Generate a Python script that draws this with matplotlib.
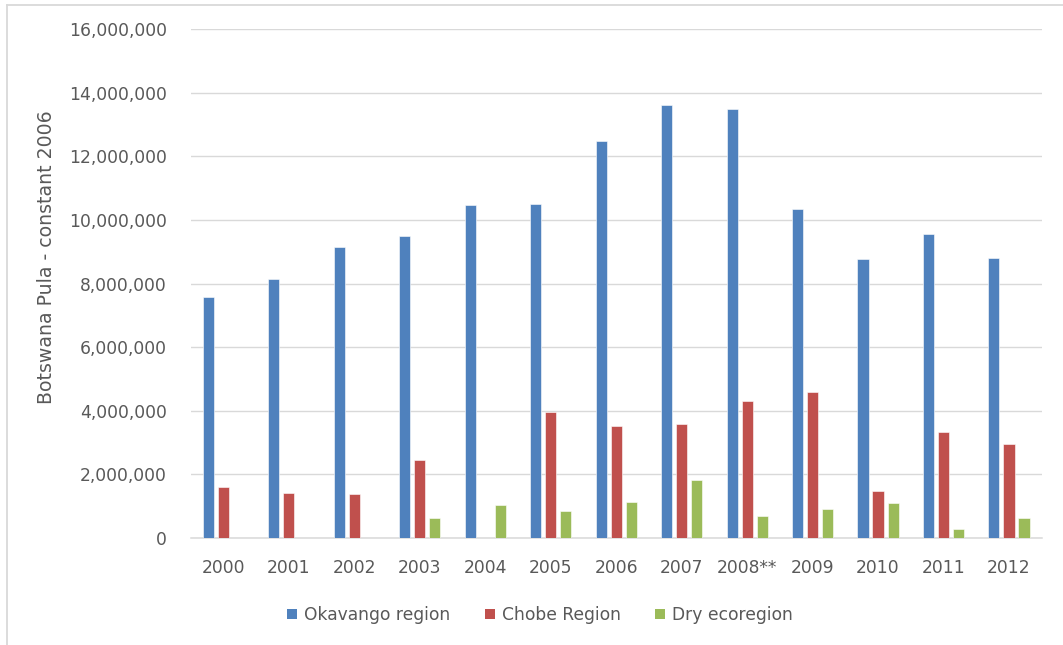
import matplotlib.pyplot as plt
from matplotlib.lines import Line2D
from matplotlib.patches import Patch
from matplotlib.ticker import FuncFormatter
import numpy as np

years = ["2000", "2001", "2002", "2003", "2004", "2005", "2006",
         "2007", "2008**", "2009", "2010", "2011", "2012"]
okavango = [7590000, 8140000, 9160000, 9510000, 10460000, 10510000, 12490000,
            13630000, 13500000, 10360000, 8760000, 9560000, 8810000]
chobe = [1590000, 1420000, 1370000, 2440000, 0, 3970000, 3520000,
         3580000, 4310000, 4590000, 1480000, 3340000, 2950000]
dry = [0, 0, 0, 630000, 1030000, 860000, 1140000,
       1810000, 680000, 910000, 1090000, 290000, 630000]
series_names = ["Okavango region", "Chobe Region", "Dry ecoregion"]
colors = ["#4f81bd", "#c0504d", "#9bbb59"]

plt.rcParams["font.family"] = ["DejaVu Sans"]
TXT = "#595959"
GRID = "#d9d9d9"
FS = 12.3

fig = plt.figure(figsize=(10.63, 6.45), dpi=100)
ax = fig.add_axes([190.7 / 1063, 1 - 538 / 645, 851 / 1063, 508.7 / 645])

x = np.arange(len(years))
w = 0.17
off = 0.23
for i, vals in enumerate([okavango, chobe, dry]):
    ax.bar(x + (i - 1) * off, vals, w, color=colors[i],
           edgecolor="white", linewidth=0.4, zorder=3)

ax.set_xlim(-0.5, len(years) - 0.5)
ax.set_ylim(0, 16000000)
ax.set_yticks(np.arange(0, 16000001, 2000000))
ax.yaxis.set_major_formatter(FuncFormatter(lambda v, p: f"{int(v):,}"))
ax.set_xticks(x)
ax.set_xticklabels(years)
ax.tick_params(axis="both", length=0, colors=TXT, labelsize=FS)
ax.tick_params(axis="y", pad=17)
ax.tick_params(axis="x", pad=15)
ax.grid(axis="y", color=GRID, linewidth=1.0, zorder=0)
for side in ["top", "right", "left"]:
    ax.spines[side].set_visible(False)
ax.spines["bottom"].set_color(GRID)
ax.spines["bottom"].set_linewidth(1.1)

fig.text(47 / 1063, 1 - 257 / 645, "Botswana Pula - constant 2006",
         rotation=90, ha="center", va="center", color=TXT, fontsize=13.6)

handles = [Patch(facecolor=c, edgecolor="none") for c in colors]
fig.legend(handles, series_names, loc="center", ncol=3,
           bbox_to_anchor=(540 / 1063, 1 - 615 / 645), frameon=False,
           fontsize=FS, labelcolor=TXT, handlelength=0.6, handleheight=0.6,
           handletextpad=0.4, columnspacing=2.0)

# outer chart border (top and left edges)
fig.add_artist(Line2D([7 / 1063, 1], [1 - 4.5 / 645, 1 - 4.5 / 645],
                      color=GRID, linewidth=1.3, transform=fig.transFigure))
fig.add_artist(Line2D([7 / 1063, 7 / 1063], [0, 1 - 4.5 / 645],
                      color=GRID, linewidth=1.3, transform=fig.transFigure))

fig.savefig("out.png", dpi=100)
